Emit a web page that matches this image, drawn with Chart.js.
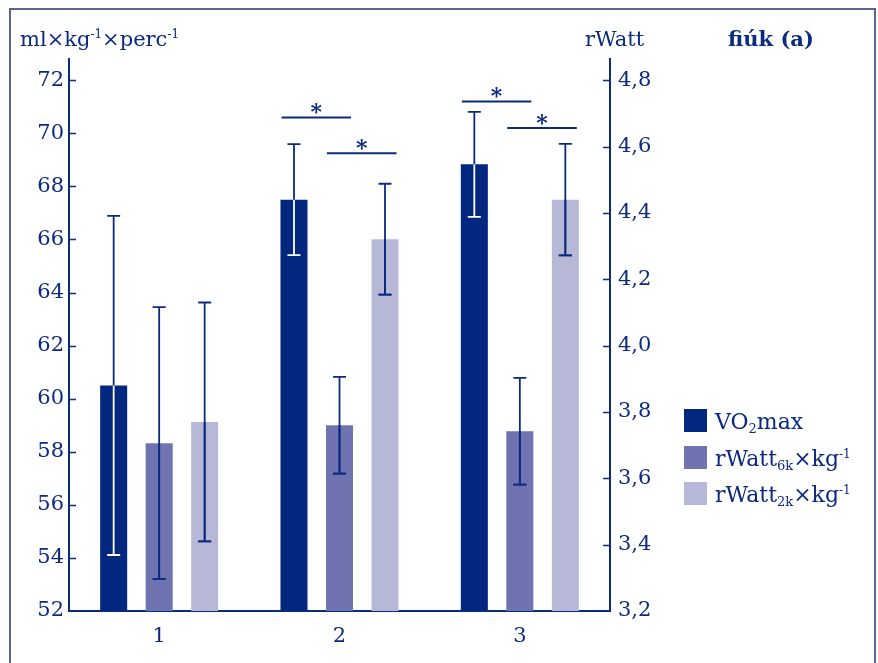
<!DOCTYPE html>
<html>
<head>
<meta charset="utf-8">
<script src="https://cdn.jsdelivr.net/npm/chart.js@4.4.0/dist/chart.umd.min.js"></script>
<style>
  html, body { margin: 0; padding: 0; background: #fff; overflow: hidden; }
  #wrap { position: relative; width: 878px; height: 663px; font-family: 'DejaVu Serif', serif; color: #0b2a80; }
  #frame { position: absolute; left: 9px; top: 8px; width: 867px; height: 700px; border: 2px solid #5a6494; box-sizing: border-box; }
  canvas { position: absolute; left: 0; top: 0; }
  .txt { position: absolute; font-size: 21px; line-height: 20px; white-space: nowrap; }
  .txt sup, .leg sup { font-size: 12px; vertical-align: 8px; line-height: 0; }
  .leg sub { font-size: 13px; vertical-align: -4px; line-height: 0; }
  .box { position: absolute; width: 23px; height: 23px; }
  .leg { position: absolute; font-size: 22px; line-height: 23px; white-space: nowrap; }
</style>
</head>
<body>
<div id="wrap">
  <canvas id="chart" width="878" height="663"></canvas>
  <div id="frame"></div>
  <div class="txt" style="left:20px; top:29px;">ml×kg<sup>-1</sup>×perc<sup>-1</sup></div>
  <div class="txt" style="left:585px; top:29px;">rWatt</div>
  <div class="txt" style="left:728px; top:29px; font-weight:bold;">fiúk (a)</div>
  <div id="legend"></div>
</div>
<script>
// categories
const groups = ['1', '2', '3'];

// VO2max on the left axis (ml/kg/perc), relative watts on the right axis
const vo2max = [60.5, 67.5, 68.83];
const vo2maxErr = [6.39, 2.09, 1.98];
const watt6k = [3.706, 3.76, 3.742];
const watt6kErr = [0.41, 0.146, 0.161];
const watt2k = [3.77, 4.321, 4.44];
const watt2kErr = [0.36, 0.167, 0.168];

// tick labels
const leftTicks = [52, 54, 56, 58, 60, 62, 64, 66, 68, 70, 72];
const rightTicks = [3.2, 3.4, 3.6, 3.8, 4.0, 4.2, 4.4, 4.6, 4.8];

// significance brackets: group index, from bar, to bar, height (left axis units)
const sigGroup = [1, 1, 2, 2];
const sigFrom = [0, 1, 0, 1];
const sigTo = [1, 2, 1, 2];
const sigLevel = [70.6, 69.25, 71.2, 70.2];

const legendLabels = [
    'VO<sub>2</sub>max',
    'rWatt<sub>6k</sub>×kg<sup>-1</sup>',
    'rWatt<sub>2k</sub>×kg<sup>-1</sup>'
];

const navy = '#0b2a80';
const barColors = ['#02277f', '#6f74b0', '#b7b7d8'];
const errInside = ['#ffffff', navy, navy];
const font = { family: "'DejaVu Serif', serif", size: 21 };

// error bars, inward tick marks and significance brackets
const overlayPlugin = {
    id: 'overlay',
    afterDatasetsDraw(chart) {
        const ctx = chart.ctx;
        const errs = [vo2maxErr, watt6kErr, watt2kErr];
        const area = chart.chartArea;

        chart.data.datasets.forEach((ds, i) => {
            const meta = chart.getDatasetMeta(i);
            const yScale = chart.scales[ds.yAxisID];
            meta.data.forEach((bar, j) => {
                const v = ds.data[j];
                const top = yScale.getPixelForValue(v + errs[i][j]);
                const bot = yScale.getPixelForValue(v - errs[i][j]);
                const drawErr = (color) => {
                    ctx.strokeStyle = color;
                    ctx.lineWidth = 1.8;
                    ctx.beginPath();
                    ctx.moveTo(bar.x, top); ctx.lineTo(bar.x, bot);
                    ctx.moveTo(bar.x - 6.5, top); ctx.lineTo(bar.x + 6.5, top);
                    ctx.moveTo(bar.x - 6.5, bot); ctx.lineTo(bar.x + 6.5, bot);
                    ctx.stroke();
                };
                ctx.save();
                drawErr(navy);
                // part of the error bar inside the bar
                ctx.beginPath();
                ctx.rect(bar.x - bar.width / 2, bar.y, bar.width, bar.base - bar.y);
                ctx.clip();
                drawErr(errInside[i]);
                ctx.restore();
            });
        });

        // tick marks pointing into the plot
        ctx.save();
        ctx.strokeStyle = navy;
        ctx.lineWidth = 1.5;
        ctx.beginPath();
        leftTicks.forEach(t => {
            if (t === leftTicks[0]) return;
            const y = Math.round(chart.scales.y.getPixelForValue(t)) + 0.5;
            ctx.moveTo(area.left, y); ctx.lineTo(area.left + 7, y);
        });
        rightTicks.forEach(t => {
            if (t === rightTicks[0]) return;
            const y = Math.round(chart.scales.y2.getPixelForValue(t)) + 0.5;
            ctx.moveTo(area.right, y); ctx.lineTo(area.right - 7, y);
        });
        ctx.stroke();
        ctx.restore();

        // significance brackets
        ctx.save();
        ctx.strokeStyle = navy;
        ctx.fillStyle = navy;
        ctx.lineWidth = 2;
        ctx.font = "bold 22px 'DejaVu Serif'";
        ctx.textAlign = 'center';
        ctx.textBaseline = 'alphabetic';
        sigGroup.forEach((g, k) => {
            const a = chart.getDatasetMeta(sigFrom[k]).data[g];
            const b = chart.getDatasetMeta(sigTo[k]).data[g];
            const x1 = a.x - a.width / 2 + 1;
            const x2 = b.x + b.width / 2 - 2;
            const y = chart.scales.y.getPixelForValue(sigLevel[k]);
            ctx.beginPath();
            ctx.moveTo(x1, y); ctx.lineTo(x2, y);
            ctx.stroke();
            ctx.fillText('*', (x1 + x2) / 2, y + 2);
        });
        ctx.restore();
    }
};

document.addEventListener('DOMContentLoaded', function() {
    // legend built from the dataset colours
    const legend = document.getElementById('legend');
    legendLabels.forEach((label, i) => {
        const top = 409 + i * 36.5;
        const box = document.createElement('div');
        box.className = 'box';
        box.style.left = '684px';
        box.style.top = top + 'px';
        box.style.background = barColors[i];
        legend.appendChild(box);
        const txt = document.createElement('div');
        txt.className = 'leg';
        txt.style.left = '715px';
        txt.style.top = (top + 1) + 'px';
        txt.innerHTML = label;
        legend.appendChild(txt);
    });

    new Chart(document.getElementById('chart'), {
        type: 'bar',
        data: {
            labels: groups,
            datasets: [
                { label: 'VO2max', data: vo2max, backgroundColor: barColors[0], yAxisID: 'y' },
                { label: 'rWatt6k×kg-1', data: watt6k, backgroundColor: barColors[1], yAxisID: 'y2' },
                { label: 'rWatt2k×kg-1', data: watt2k, backgroundColor: barColors[2], yAxisID: 'y2' }
            ]
        },
        options: {
            responsive: false,
            animation: false,
            events: [],
            categoryPercentage: 0.757,
            barPercentage: 0.594,
            layout: { padding: { top: 59, right: 208, left: 0, bottom: 0 } },
            plugins: {
                legend: { display: false },
                tooltip: { enabled: false }
            },
            scales: {
                x: {
                    grid: { display: false, drawTicks: false },
                    border: { display: true, color: navy, width: 2 },
                    ticks: { color: navy, font: font, padding: 13 },
                    afterFit: s => { s.height = 52; }
                },
                y: {
                    position: 'left',
                    min: 52,
                    max: 72.8,
                    grid: { display: false, drawTicks: false },
                    border: { display: true, color: navy, width: 2 },
                    ticks: { color: navy, font: font, padding: 5 },
                    afterBuildTicks: s => { s.ticks = leftTicks.map(v => ({ value: v })); },
                    afterFit: s => { s.width = 69; }
                },
                y2: {
                    position: 'right',
                    min: 3.2,
                    max: 4.864,
                    grid: { display: false, drawTicks: false },
                    border: { display: true, color: navy, width: 2 },
                    ticks: {
                        color: navy, font: font, padding: 8,
                        callback: v => v.toFixed(1).replace('.', ',')
                    },
                    afterBuildTicks: s => { s.ticks = rightTicks.map(v => ({ value: v })); },
                    afterFit: s => { s.width = 60; }
                }
            }
        },
        plugins: [overlayPlugin]
    });
});
</script>
</body>
</html>
